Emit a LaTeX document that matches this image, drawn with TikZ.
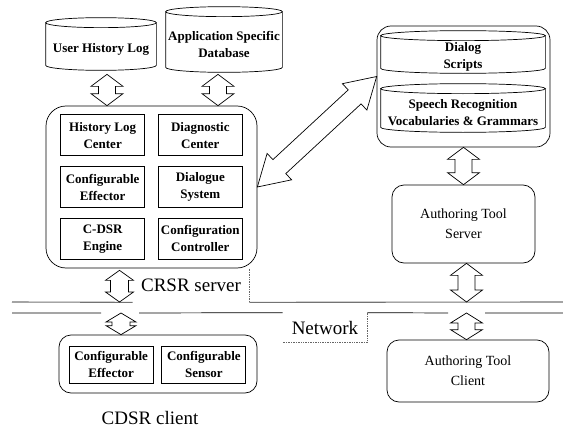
\documentclass[tikz,border=0pt]{standalone}
\usepackage{fontspec}
\setmainfont{Liberation Serif}
\usetikzlibrary{matrix,calc}

\tikzset{
  roundbox/.style={draw, rounded corners=12pt},
  drumbody/.style={align=center, inner sep=0pt, font=\boxfont},
  partbox/.style={draw, align=center, inner sep=0pt, font=\boxfont},
  tag/.style={inner sep=0pt, font=\tagfont},
  netline/.style={draw=black!55, line width=1.1pt},
}

\begin{document}
\begin{tikzpicture}[x=1pt, y=-1pt, line width=0.7pt]
    \newcommand{\boxfont}{\fontsize{13}{17}\selectfont\bfseries}
    \newcommand{\toolfont}{\fontsize{14}{20}\selectfont}
    \newcommand{\tagfont}{\fontsize{19}{22}\selectfont}
    \newcommand{\drum}[1]{
        \draw let \p1=(#1.north west), \p2=(#1.south east), \n1={(\x2-\x1)/2} in
          (\x1,\y1+5pt) -- (\x1,\y2+5pt)
          arc[start angle=180, end angle=360, x radius=\n1, y radius=5pt]
          -- (\x2,\y1+5pt)
          (\x1+\n1,\y1+5pt) ellipse[x radius=\n1, y radius=5pt];
    }
    % name, from, to, head half width, shaft half width, head length
    \newcommand{\dblarrow}[6]{
        \coordinate (#1) at ($(#2)!0.5!(#3)$);
        \draw[fill=white] (#2)
          -- ($(#2)!#6!(#3)!#4!90:(#3)$) -- ($(#2)!#6!(#3)!#5!90:(#3)$)
          -- ($(#3)!#6!(#2)!#5!-90:(#2)$) -- ($(#3)!#6!(#2)!#4!-90:(#2)$)
          -- (#3)
          -- ($(#3)!#6!(#2)!#4!90:(#2)$) -- ($(#3)!#6!(#2)!#5!90:(#2)$)
          -- ($(#2)!#6!(#3)!#5!-90:(#3)$) -- ($(#2)!#6!(#3)!#4!-90:(#3)$)
          -- cycle;
    }
  \useasboundingbox (0,0) rectangle (563,431);

  \node[drumbody, minimum width=110pt, minimum height=42pt] (uhl) at (101,49) {User History Log};
  \drum{uhl}
  \node[drumbody, minimum width=116pt, minimum height=55pt] (asd) at (224,44.5) {Application Specific\\Database};
  \drum{asd}

  \node[roundbox, rounded corners=20pt, minimum width=211pt, minimum height=162pt] (crsr) at (151.5,187) {};
  \matrix[
  nodes={partbox, minimum width=84pt, minimum height=41pt},
  column sep=13pt, row sep=10pt
] (crsrgrid) at (crsr.center)
  {
    \node (hlc) {History Log\\Center}; & \node (dgc) {Diagnostic\\Center}; \\
    \node (cfe) {Configurable\\Effector}; & \node (dls) {Dialogue\\System}; \\
    \node (eng) {C-DSR\\Engine}; & \node (cfc) {Configuration\\Controller}; \\
  };

  \node[roundbox, rounded corners=14pt, minimum width=173pt, minimum height=121pt] (scripts) at (463.5,86.5) {};
  \node[drumbody, minimum width=164pt, minimum height=32pt] (dlg) at (463,57) {Dialog\\Scripts};
  \drum{dlg}
  \node[drumbody, minimum width=164pt, minimum height=38pt] (vocab) at (463,113) {Speech Recognition\\Vocabularies \& Grammars};
  \drum{vocab}

  \node[roundbox, minimum width=143pt, minimum height=78pt, align=center, font=\toolfont] (ats) at (463.5,224) {Authoring Tool\\Server};
  \node[roundbox, minimum width=162pt, minimum height=62pt, align=center, font=\toolfont] (atc) at (468,371) {Authoring Tool\\Client};

  \node[roundbox, minimum width=198pt, minimum height=58pt] (cdsr) at (158,364) {};
  \matrix[
  nodes={partbox, minimum width=84pt, minimum height=37pt},
  column sep=8pt
] (cdsrgrid) at (157.5,364.5)
  {
    \node (cle) {Configurable\\Effector}; & \node (cls) {Configurable\\Sensor}; \\
  };

  \node[tag, minimum width=116pt, minimum height=33pt] (srvtag) at (191,285.5) {CRSR server};
  \node[tag, minimum width=84pt, minimum height=29pt] (nettag) at (325,327.5) {Network};
  \node[tag] (clttag) at (150,418) {CDSR client};

  \coordinate (la) at (12,302);
  \coordinate (lb) at (12,313);
  \draw[netline] (la) -- (srvtag.south west) (srvtag.south east) -- (563,302);
  \draw[densely dotted, draw=black!60] (srvtag.north east) -- (srvtag.south east);
  \draw (lb) -- (101,313) (139,313) -- (nettag.north west) (nettag.north east) -- (448,313) (485,313) -- (563,313);
  \draw[densely dotted, draw=black!60] (nettag.north east) -- (nettag.south east) -- (nettag.south west);

  \coordinate (p1) at ([shift={(6,4)}]uhl.south);
  \coordinate (p2) at ([shift={(-6,2)}]asd.south);
  \coordinate (p3) at ([shift={(-32,2)}]crsr.south);
  \coordinate (p4) at ([xshift=-37pt]cdsr.north);
  \coordinate (p5) at ([xshift=3pt]ats.south);
  \dblarrow{uhlarrow}{p1}{p1 |- crsr.north}{16pt}{8.5pt}{12pt}
  \dblarrow{asdarrow}{p2}{p2 |- crsr.north}{16pt}{8.5pt}{12pt}
  \dblarrow{srvarrow}{p3}{p3 |- la}{14pt}{9pt}{10pt}
  \dblarrow{cltarrow}{p4 |- lb}{p4}{15pt}{9pt}{9pt}
  \dblarrow{atsarrow}{scripts.south}{ats.north}{16pt}{8.5pt}{12pt}
  \dblarrow{uparrow}{p5}{p5 |- la}{16pt}{8.5pt}{12pt}
  \dblarrow{atcarrow}{p5 |- lb}{p5 |- atc.north}{16pt}{8.5pt}{10pt}
  \dblarrow{linkarrow}{crsr.east}{[yshift=10pt]scripts.west}{18pt}{9.5pt}{30pt}

\end{tikzpicture}
\end{document}
